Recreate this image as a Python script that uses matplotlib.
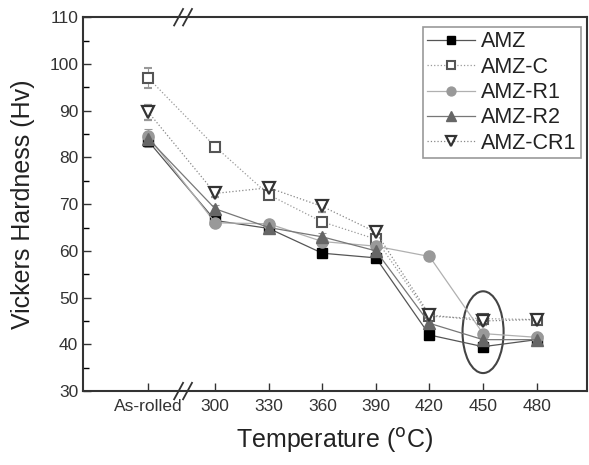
import matplotlib
matplotlib.use("Agg")
import matplotlib.pyplot as plt
from matplotlib.patches import Ellipse
from matplotlib.lines import Line2D

plt.rcParams['font.family'] = ['Liberation Sans', 'DejaVu Sans']

# x positions: "As-rolled" is placed before the axis break
tick_labels = ['As-rolled', '300', '330', '360', '390', '420', '450', '480']
x_pos = [262.5, 300, 330, 360, 390, 420, 450, 480]

amz = [83.5, 66.5, 64.8, 59.5, 58.5, 42.0, 39.5, 41.0]
amz_c = [97.0, 82.3, 72.0, 66.2, 62.5, 46.0, 45.5, 45.3]
amz_r1 = [84.5, 66.0, 65.8, 62.0, 61.0, 58.8, 42.3, 41.5]
amz_r2 = [84.0, 69.0, 65.0, 63.0, 60.0, 44.5, 41.0, 41.0]
amz_cr1 = [89.7, 72.3, 73.5, 69.5, 64.0, 46.3, 45.0, 45.3]

err_amz = [1.2, 0.6, 0.6, 0.6, 0.8, 0.6, 0.6, 0.6]
err_c = [2.2, 0.6, 0.8, 0.6, 0.8, 0.8, 0.8, 0.6]
err_r1 = [1.5, 0.8, 0.6, 0.8, 0.6, 0.6, 0.8, 0.6]
err_r2 = [1.2, 0.8, 0.6, 0.8, 0.6, 0.6, 0.6, 0.6]
err_cr1 = [1.6, 0.8, 0.8, 1.2, 1.0, 1.0, 0.8, 0.6]

series = [
    ('AMZ', amz, err_amz, dict(color='#555555', ls='-', marker='s', mfc='black', mec='black', ms=7)),
    ('AMZ-C', amz_c, err_c, dict(color='#9a9a9a', ls=':', marker='s', mfc='white', mec='#555555', ms=7, mew=1.5)),
    ('AMZ-R1', amz_r1, err_r1, dict(color='#b0b0b0', ls='-', marker='o', mfc='#999999', mec='#999999', ms=8)),
    ('AMZ-R2', amz_r2, err_r2, dict(color='#777777', ls='-', marker='^', mfc='#666666', mec='#666666', ms=8.5)),
    ('AMZ-CR1', amz_cr1, err_cr1, dict(color='#888888', ls=':', marker='v', mfc='white', mec='#333333', ms=9, mew=1.6)),
]

fig = plt.figure(figsize=(5.89, 4.65), dpi=100)
ax = fig.add_axes([0.141, 0.159, 0.855, 0.804])

handles = []
for name, vals, err, st in series:
    ax.errorbar(x_pos, vals, yerr=err, lw=0.9, capsize=3,
                ecolor='#999999', elinewidth=0.8, capthick=0.8, **st)
    handles.append(Line2D([], [], lw=0.9, label=name, **st))

# ellipse around the 450 C points
ax.add_patch(Ellipse((450, 42.6), 23, 17.5, fill=False, ec='#444444', lw=1.5))

ax.set_xlim(226, 508)
ax.set_ylim(30, 110)
ax.set_xticks(x_pos)
ax.set_xticklabels(tick_labels)
ax.set_yticks(range(30, 111, 10))
ax.set_yticks(range(35, 110, 10), minor=True)
ax.tick_params(axis='both', direction='in', labelsize=12.5, colors='#333333', length=6, width=1)
ax.tick_params(axis='y', which='minor', direction='in', length=4, width=1)
ax.tick_params(axis='x', pad=6)
ax.tick_params(top=False, right=False)
for sp in ax.spines.values():
    sp.set_color('#333333')
    sp.set_linewidth(1.5)

# axis break marks
for yb in (0, 1):
    for dx in (-2.5, 2.5):
        ax.plot([282 + dx - 2.5, 282 + dx + 2.5], [yb - 0.022, yb + 0.022],
                transform=ax.get_xaxis_transform(), color='#333333', lw=1.3, clip_on=False)

ax.set_xlabel('Temperature ($^{\\rm o}$C)', fontsize=18, color='#222222', labelpad=8)
ax.set_ylabel('Vickers Hardness (Hv)', fontsize=18, color='#222222', labelpad=10)

leg = ax.legend(handles=handles, loc='upper right', bbox_to_anchor=(0.997, 0.985), fontsize=15.5,
                fancybox=False, edgecolor='#999999', framealpha=1, handlelength=2.2,
                handletextpad=0.3, borderpad=0.2, labelspacing=0.2, borderaxespad=0.2,
                markerscale=0.8)
leg.get_frame().set_linewidth(1.2)
for t in leg.get_texts():
    t.set_color('#222222')

fig.savefig('out.png', dpi=100)
